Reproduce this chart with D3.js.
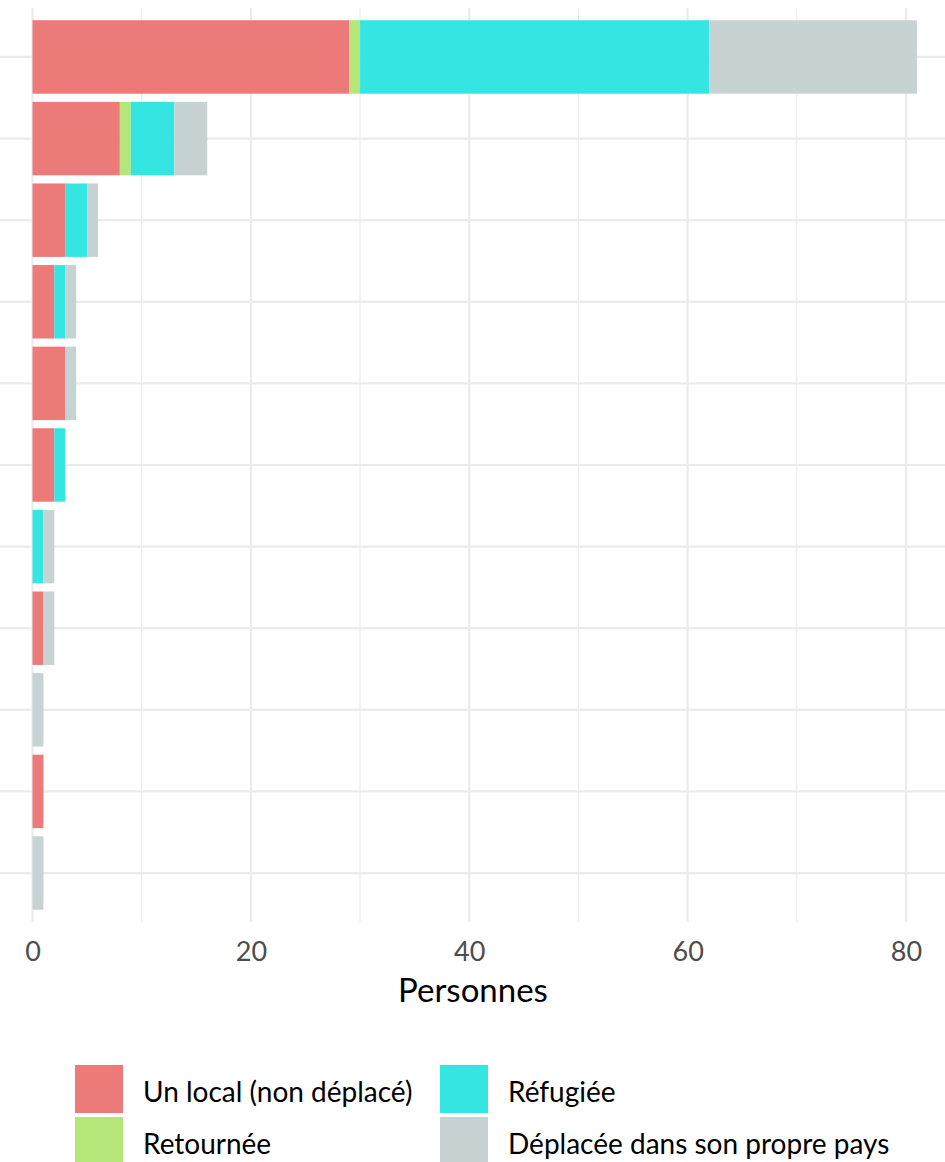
<!DOCTYPE html>
<html><head><meta charset="utf-8">
<script src="https://cdn.jsdelivr.net/npm/d3@7"></script>
<style>body{margin:0;background:#fff}svg{display:block}</style>
</head><body>
<svg id="c" width="945" height="1162"></svg>
<script>
const categories = ["c1","c2","c3","c4","c5","c6","c7","c8","c9","c10","c11"];
const seriesNames = ["Un local (non déplacé)","Retournée","Réfugiée","Déplacée dans son propre pays"];
const local     = [29, 8, 3, 2, 3, 2, 0, 1, 0, 1, 0];
const retournee = [ 1, 1, 0, 0, 0, 0, 0, 0, 0, 0, 0];
const refugiee  = [32, 4, 2, 1, 0, 1, 1, 0, 0, 0, 0];
const deplacee  = [19, 3, 1, 1, 1, 0, 1, 1, 1, 0, 1];
const xTicks = [0, 20, 40, 60, 80];
const xMinor = [10, 30, 50, 70];
const colors = ["#EB7A78", "#B3E77A", "#35E5E2", "#C7D2D3"];

const FONT = "Lato, 'Open Sans', sans-serif";
const rows = categories.map((c,i)=>({cat:c, s0:local[i], s1:retournee[i], s2:refugiee[i], s3:deplacee[i]}));
const stack = d3.stack().keys(["s0","s1","s2","s3"])(rows);

const svg = d3.select("#c");
const panel = {left:0, right:945, top:8, bottom:922};
const x = d3.scaleLinear().domain([0,80]).range([32.5, 906]);
const y = d3.scaleBand().domain(categories).range([panel.top, panel.bottom]).paddingInner(0.1).paddingOuter(0.15);

const g = svg.append("g");
g.selectAll(".minx").data(xMinor).join("line")
  .attr("x1",d=>x(d)).attr("x2",d=>x(d)).attr("y1",panel.top).attr("y2",panel.bottom)
  .attr("stroke","#ebebeb").attr("stroke-width",1.1);
g.selectAll(".majx").data(xTicks).join("line")
  .attr("x1",d=>x(d)).attr("x2",d=>x(d)).attr("y1",panel.top).attr("y2",panel.bottom)
  .attr("stroke","#ebebeb").attr("stroke-width",2.2);
g.selectAll(".majy").data(categories).join("line")
  .attr("x1",panel.left).attr("x2",panel.right)
  .attr("y1",d=>y(d)+y.bandwidth()/2).attr("y2",d=>y(d)+y.bandwidth()/2)
  .attr("stroke","#ebebeb").attr("stroke-width",2.2);

g.selectAll(".ser").data(stack).join("g").attr("fill",(d,i)=>colors[i])
  .selectAll("rect").data(d=>d.filter(p=>p[1]-p[0]>0)).join("rect")
  .attr("x",d=>x(d[0])).attr("width",d=>x(d[1])-x(d[0]))
  .attr("y",d=>y(d.data.cat)).attr("height",y.bandwidth());

const ax = svg.append("g").attr("transform",`translate(0,${panel.bottom})`)
  .call(d3.axisBottom(x).tickValues(xTicks).tickSize(0).tickPadding(20).tickFormat(d3.format("d")));
ax.select(".domain").remove();
ax.selectAll("text").attr("fill","#4d4d4d").style("font-family",FONT).style("font-size","27px");

svg.append("text").attr("x",473).attr("y",1002).attr("text-anchor","middle")
  .style("font-family",FONT).style("font-size","33px").attr("fill","#000")
  .text("Personnes");

const legPos = [[75,1065],[75,1117],[440,1065],[440,1117]];
const leg = svg.append("g");
seriesNames.forEach((n,i)=>{
  const [lx,ly] = legPos[i];
  leg.append("rect").attr("x",lx).attr("y",ly).attr("width",48).attr("height",48).attr("fill",colors[i]);
  leg.append("text").attr("x",lx+68).attr("y",ly+27).attr("dy","0.35em")
    .style("font-family",FONT).style("font-size","28px").attr("fill","#000").text(n);
});
</script>
</body></html>
